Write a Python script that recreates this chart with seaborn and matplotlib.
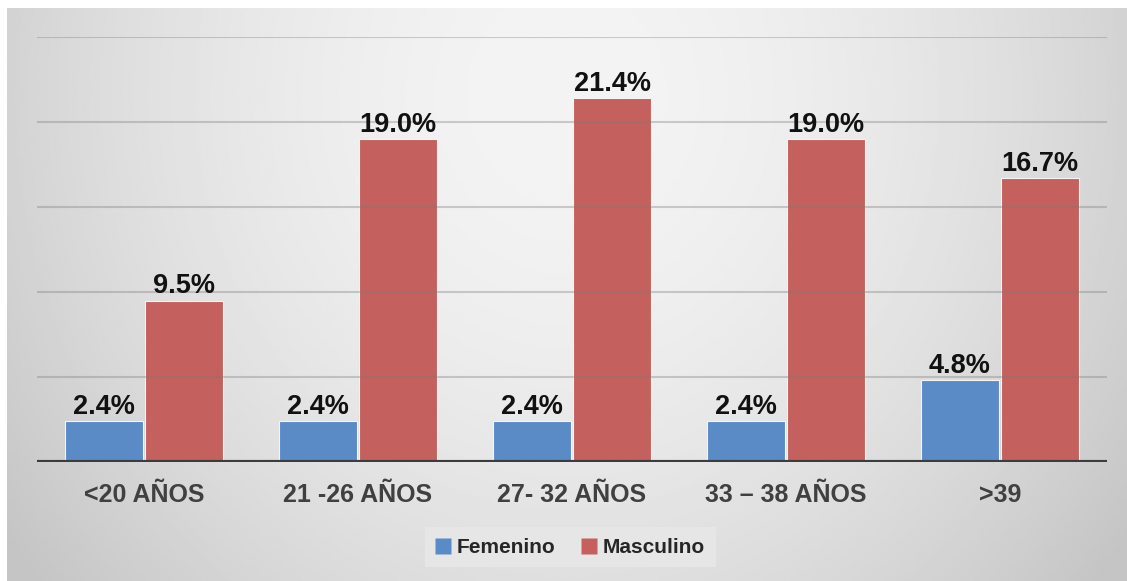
import numpy as np
import pandas as pd
import matplotlib
matplotlib.use("Agg")
import matplotlib.pyplot as plt
from matplotlib.lines import Line2D
import seaborn as sns

categorias = ["<20 AÑOS", "21 -26 AÑOS", "27- 32 AÑOS", "33 – 38 AÑOS", ">39"]
femenino = [2.4, 2.4, 2.4, 2.4, 4.8]
masculino = [9.5, 19.0, 21.4, 19.0, 16.7]
series = ["Femenino", "Masculino"]
COLORS = {"Femenino": "#5B8BC6", "Masculino": "#C4605E"}

df = pd.DataFrame({
    "edad": categorias * 2,
    "sexo": ["Femenino"] * len(categorias) + ["Masculino"] * len(categorias),
    "pct": femenino + masculino,
})

sns.set_theme(style="white")
plt.rcParams["font.family"] = ["Liberation Sans", "DejaVu Sans"]

fig = plt.figure(figsize=(11.27, 5.81), dpi=100)
fig.patch.set_facecolor("white")

# fondo con degradado gris
bg = fig.add_axes([7 / 1127, 0, 1 - 7 / 1127, 1 - 8 / 581], zorder=-5)
gx, gy = np.meshgrid(np.linspace(0, 1, 400), np.linspace(0, 1, 200))
d = np.sqrt(((gx - 0.5) / 0.55) ** 2 + ((gy - 0.15) / 1.2) ** 2)
shade = np.clip(0.955 - 0.15 * d ** 1.8, 0.77, 0.955)
bg.imshow(shade, cmap="gray", vmin=0, vmax=1, aspect="auto",
          extent=[0, 1, 1, 0], interpolation="bilinear")
bg.axis("off")

ax = fig.add_axes([37 / 1127, 1 - 462 / 581, (1107 - 37) / 1127, (462 - 37) / 581])
ax.set_facecolor("none")

sns.barplot(data=df, x="edad", y="pct", hue="sexo", palette=COLORS,
            order=categorias, hue_order=series, width=0.75, gap=0.02,
            saturation=1, edgecolor="#f4f4f4", linewidth=0.8, ax=ax, zorder=2)

ax.set_ylim(0, 25)
ax.set_xlim(-0.5, len(categorias) - 0.5)
for yv in [5, 10, 15, 20, 25]:
    ax.axhline(yv, color="#7a7a7a", alpha=0.35, linewidth=1.5, zorder=3)
ax.axhline(0, color="#3c3c3c", linewidth=3, zorder=4)

for cont in ax.containers:
    for bar in cont:
        h = bar.get_height()
        ax.annotate(f"{h:.1f}%", (bar.get_x() + bar.get_width() / 2, h),
                    xytext=(0, 1), textcoords="offset points",
                    ha="center", va="bottom", fontsize=19.5, fontweight="bold",
                    color="#111111", zorder=5)

for s in ax.spines.values():
    s.set_visible(False)
ax.set_yticks([])
ax.set_xlabel("")
ax.set_ylabel("")
ax.tick_params(axis="x", length=0, pad=15)
for lbl in ax.get_xticklabels():
    lbl.set_fontsize(18)
    lbl.set_fontweight("bold")
    lbl.set_color("#404040")

ax.legend_.remove()
proxies = [Line2D([], [], marker="s", linestyle="", markersize=11,
                  markerfacecolor=COLORS[s], markeredgecolor="none") for s in series]
leg = fig.legend(proxies, series, loc="center", bbox_to_anchor=(0.506, 0.058),
                 ncol=2, frameon=True, fancybox=False, facecolor="#e6e6e6",
                 edgecolor="none", framealpha=1, handlelength=0.7,
                 handletextpad=0.3, columnspacing=1.3, borderpad=0.5,
                 prop={"size": 15, "weight": "bold"})

fig.savefig("out.png", dpi=100)
